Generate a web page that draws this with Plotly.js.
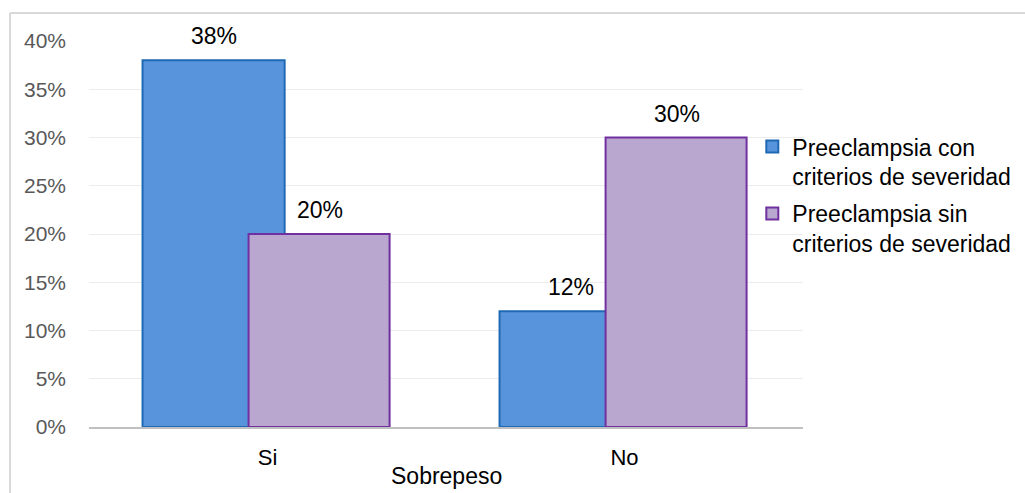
<!DOCTYPE html>
<html>
<head>
<meta charset="utf-8">
<script src="https://cdn.plot.ly/plotly-3.0.1.min.js"></script>
<style>
html,body{margin:0;padding:0;background:#fff;}
#chart{width:1025px;height:493px;}
</style>
</head>
<body>
<div id="chart"></div>
<script>
const categories = ["Si", "No"];
const seriesNames = ["Preeclampsia con<br>criterios de severidad", "Preeclampsia sin<br>criterios de severidad"];
const conSeveridad = [0.38, 0.12];
const sinSeveridad = [0.20, 0.30];
const yTicks = [0, 0.05, 0.10, 0.15, 0.20, 0.25, 0.30, 0.35, 0.40];
const xTitle = "Sobrepeso";

const font = "Liberation Sans, Arial, sans-serif";
const pct = v => Math.round(v * 100) + "%";

const traces = [
  {
    type: "bar", name: seriesNames[0], x: categories, y: conSeveridad,
    legendgroup: "g1",
    offset: -0.35, width: 0.398,
    marker: {color: "#5894dc", line: {color: "#1e68b4", width: 2}}
  },
  {
    type: "bar", name: seriesNames[1], x: categories, y: sinSeveridad,
    legendgroup: "g2",
    offset: -0.053, width: 0.395,
    marker: {color: "#b9a7cf", line: {color: "#7030a0", width: 2}}
  }
];

function labelAnns(vals, xshift) {
  return categories.map((c, i) => ({
    x: c, y: vals[i], xref: "x", yref: "y", text: pct(vals[i]),
    showarrow: false, xanchor: "center", yanchor: "bottom",
    xshift: xshift, yshift: 9,
    font: {family: font, size: 23, color: "#000"}
  }));
}

const layout = {
  width: 1025, height: 493,
  margin: {l: 89, r: 222, t: 41, b: 66, autoexpand: false},
  paper_bgcolor: "#fff", plot_bgcolor: "#fff",
  barmode: "overlay",
  font: {family: font, size: 16, color: "#000"},
  showlegend: true,
  legend: {
    x: 0.929, y: 0.782, xanchor: "left", yanchor: "top",
    font: {family: font, size: 23, color: "#000"},
    valign: "top",
    tracegroupgap: 4, itemwidth: 30, bgcolor: "rgba(0,0,0,0)"
  },
  xaxis: {
    type: "category", range: [-0.5, 1.5],
    showgrid: false, zeroline: false,
    showline: true, linecolor: "#c0c0c0", linewidth: 2,
    ticks: "", tickfont: {family: font, size: 22, color: "#000"},
    ticklabelstandoff: 10, automargin: false
  },
  yaxis: {
    range: [0, 0.4], tickvals: yTicks, tickformat: ".0%",
    showgrid: true, gridcolor: "#ececec", gridwidth: 1,
    zeroline: false, showline: false, ticks: "",
    tickfont: {family: font, size: 21, color: "#595959"},
    ticklabelstandoff: 22, automargin: false
  },
  annotations: [
    {text: xTitle, xref: "paper", yref: "paper", x: 0.5, y: -0.127,
     xanchor: "center", yanchor: "middle", showarrow: false,
     font: {family: font, size: 23, color: "#000"}}
  ].concat(labelAnns(conSeveridad, -54), labelAnns(sinSeveridad, 52)),
  shapes: [
    {type: "line", xref: "paper", yref: "paper", x0: -0.1106, x1: -0.1106, y0: -0.25, y1: 1.0725,
     line: {color: "#d9d9d9", width: 2}},
    {type: "line", xref: "paper", yref: "paper", x0: -0.1106, x1: 1.35, y0: 1.0725, y1: 1.0725,
     line: {color: "#d9d9d9", width: 2}}
  ]
};

Plotly.newPlot("chart", traces, layout, {displayModeBar: false, responsive: false});
</script>
</body>
</html>
